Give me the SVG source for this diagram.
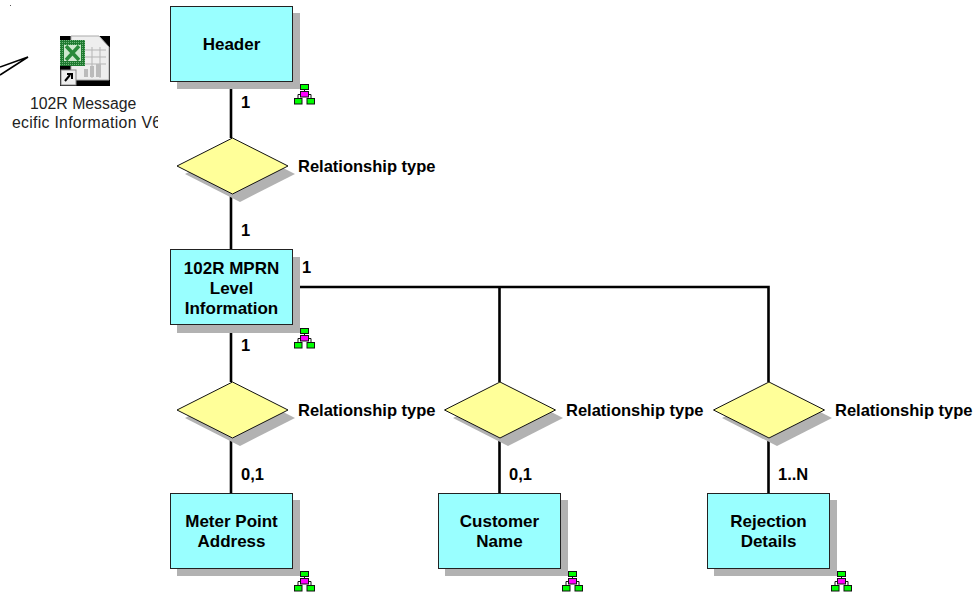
<svg xmlns="http://www.w3.org/2000/svg" width="976" height="595" viewBox="0 0 976 595">
<style>
text{font-family:"Liberation Sans",Arial,sans-serif;font-size:16.5px;font-weight:700;fill:#000}
.m{text-anchor:middle;font-size:17px}
.r{font-weight:400;font-size:15.8px;fill:#222}
.sh{fill:#b2b2b2}
.box{fill:#99ffff;stroke:#222;stroke-width:1}
.dia{fill:#ffff99;stroke:#111;stroke-width:1}
.con{fill:none;stroke:#000;stroke-width:2.6}
.g{fill:#00ff00;stroke:#111;stroke-width:1}
.p{fill:#ff00ff;stroke:#111;stroke-width:1}
.l{fill:none;stroke:#111;stroke-width:1}
</style>
<defs>
<clipPath id="c"><rect x="12" y="90" width="146" height="50"/></clipPath>
<pattern id="dit" width="2" height="2" patternUnits="userSpaceOnUse"><rect width="2" height="2" fill="#1f7a30"/><rect width="1" height="1" fill="#6fb57a"/></pattern>
<g id="tree">
<path class="l" d="M10.500 5V8M4 14V10.500H17V14"/>
<rect class="g" x="6.500" y="0.500" width="8" height="5"/>
<rect class="p" x="6.500" y="7.500" width="8" height="5.500"/>
<rect class="g" x="0.500" y="14.500" width="7.500" height="5.500"/>
<rect class="g" x="13" y="14.500" width="7.500" height="5.500"/>
</g>
<polygon id="sd" class="sh" points="0,-28 55,0 0,28 -55,0"/>
<polygon id="d" class="dia" points="0,-28 55.500,0 0,28 -55.500,0"/>
</defs>
<g id="connectors">
<path class="con" d="M231 81V138M231 194V250M231 325V382M231 438V493M300 287H768.500V382M499.500 287V382M499.500 438V493M768.500 438V493"/>
<path d="M0 67L28 57L0 75" fill="#fff" stroke="#000" stroke-width="1.500"/>
<rect x="10" y="5" width="1" height="1" fill="#555"/>
</g>
<g id="excel-link">
<path d="M60 36H110V86H60Z" fill="#000"/>
<path d="M71 36H99L109 47V80H71Z" fill="#eee" stroke="#aaa"/>
<path d="M85 50H106M85 57H106M85 64H106M92 47V78M100 47V78" stroke="#b5b5b5" fill="none"/>
<path d="M84 77V69H88V77ZM90 77V66H94V77ZM96 77V64H101V77Z" fill="#bbb"/>
<rect x="60" y="40" width="25" height="26" fill="url(#dit)"/>
<rect x="64" y="45" width="17" height="16" fill="#cfe8cf"/>
<path d="M66 46L79 60M79 46L66 60" stroke="#2a8a3a" stroke-width="3.500"/>
<rect x="61" y="70" width="15" height="15" fill="#eee" stroke="#888"/>
<path d="M65 81L70 75M67 74H72V79" stroke="#000" stroke-width="2" fill="none"/>
<g clip-path="url(#c)">
<text class="r" x="30" y="109">102R Message</text>
<text class="r" x="-8" y="128" letter-spacing="0.300">Specific Information V6</text>
</g>
</g>
<g id="header">
<rect class="sh" x="177" y="13" width="123" height="76"/>
<rect class="box" x="170.500" y="6.500" width="122" height="75"/>
<text class="m" x="231.500" y="50">Header</text>
<use href="#tree" x="294" y="84"/>
<text x="241" y="108">1</text>
</g>
<g id="rel1">
<use href="#sd" x="240" y="174"/>
<use href="#d" x="232.500" y="166"/>
<text x="298" y="172">Relationship type</text>
<text x="241" y="236">1</text>
</g>
<g id="mprn">
<rect class="sh" x="177" y="257" width="123" height="76"/>
<rect class="box" x="170.500" y="249.500" width="122" height="75"/>
<text class="m" x="231.500" y="274">102R MPRN</text>
<text class="m" x="231.500" y="294">Level</text>
<text class="m" x="231.500" y="314">Information</text>
<use href="#tree" x="294" y="328"/>
<text x="302" y="273">1</text>
<text x="241" y="351">1</text>
</g>
<g id="rel2">
<use href="#sd" x="240" y="418"/>
<use href="#d" x="232.500" y="410"/>
<text x="298" y="416">Relationship type</text>
<text x="241" y="480">0,1</text>
</g>
<g id="rel3">
<use href="#sd" x="508" y="418"/>
<use href="#d" x="500" y="410"/>
<text x="566" y="416">Relationship type</text>
<text x="509" y="480">0,1</text>
</g>
<g id="rel4">
<use href="#sd" x="777" y="418"/>
<use href="#d" x="769" y="410"/>
<text x="835" y="416">Relationship type</text>
<text x="778" y="480">1..N</text>
</g>
<g id="meter">
<rect class="sh" x="177" y="500" width="123" height="76"/>
<rect class="box" x="170.500" y="493.500" width="122" height="75"/>
<text class="m" x="231.500" y="527">Meter Point</text>
<text class="m" x="231.500" y="547">Address</text>
<use href="#tree" x="294" y="571"/>
</g>
<g id="customer">
<rect class="sh" x="445" y="500" width="123" height="76"/>
<rect class="box" x="438.500" y="493.500" width="122" height="75"/>
<text class="m" x="499.500" y="527">Customer</text>
<text class="m" x="499.500" y="547">Name</text>
<use href="#tree" x="562" y="571"/>
</g>
<g id="rejection">
<rect class="sh" x="714" y="500" width="123" height="76"/>
<rect class="box" x="707.500" y="493.500" width="122" height="75"/>
<text class="m" x="768.500" y="527">Rejection</text>
<text class="m" x="768.500" y="547">Details</text>
<use href="#tree" x="831" y="571"/>
</g>
</svg>
